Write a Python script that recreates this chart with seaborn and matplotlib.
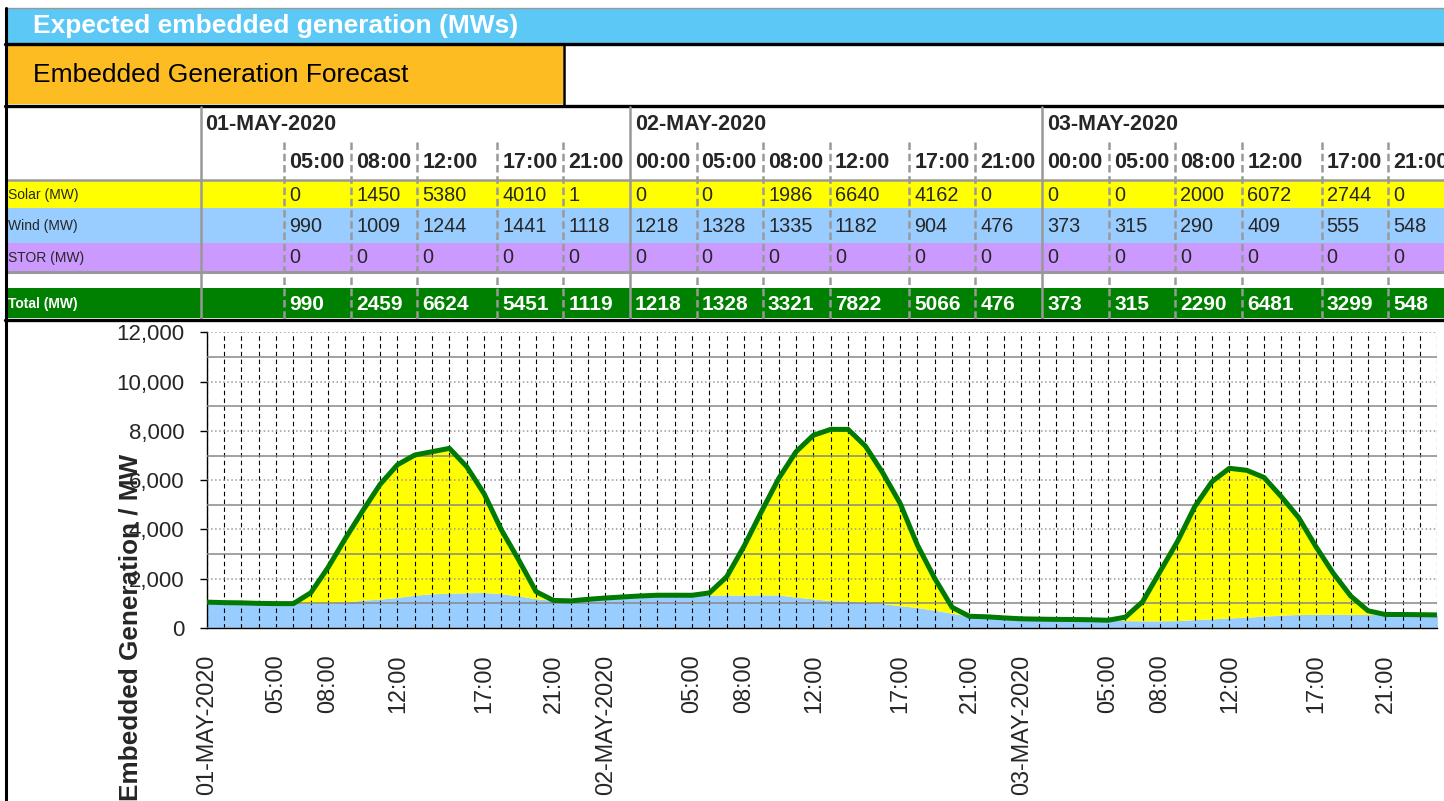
import numpy as np
import matplotlib
matplotlib.use('Agg')
import matplotlib.pyplot as plt
import seaborn as sns
from matplotlib.patches import Rectangle
from matplotlib.ticker import MultipleLocator, StrMethodFormatter

# hourly forecast, 01-MAY-2020 01:00 .. 03-MAY-2020 24:00
wind_mw = [1050, 1030, 1020, 1000, 990, 990, 1000, 1009, 1050, 1130, 1170, 1244, 1330, 1390, 1410, 1430, 1441, 1390, 1300, 1190, 1118, 1100, 1165,
           1218, 1260, 1300, 1330, 1330, 1328, 1335, 1340, 1335, 1345, 1340, 1250, 1182, 1110, 1090, 1040, 990, 904, 830, 720, 600, 476, 455, 410,
           373, 360, 350, 345, 335, 315, 300, 290, 290, 300, 340, 370, 409, 440, 480, 520, 550, 555, 560, 550, 545, 548, 548, 540, 530]
solar_mw = [0, 0, 0, 0, 0, 0, 430, 1450, 2590, 3630, 4660, 5380, 5690, 5765, 5880, 5116, 4010, 2590, 1460, 285, 1, 0, 0,
            0, 0, 0, 0, 0, 0, 90, 740, 1986, 3375, 4730, 5905, 6640, 6950, 6970, 6345, 5310, 4162, 2540, 1295, 240, 0, 0, 0,
            0, 0, 0, 0, 0, 0, 140, 780, 2000, 3200, 4580, 5570, 6072, 5960, 5630, 4810, 3930, 2744, 1660, 750, 155, 0, 0, 0, 0]
stor_mw = [0] * 72

tick_hours = [0, 4, 7, 11, 16, 20, 23, 28, 31, 35, 40, 44, 47, 52, 55, 59, 64, 68]
tick_labels = ['01-MAY-2020', '05:00', '08:00', '12:00', '17:00', '21:00',
               '02-MAY-2020', '05:00', '08:00', '12:00', '17:00', '21:00',
               '03-MAY-2020', '05:00', '08:00', '12:00', '17:00', '21:00']

# table above the chart
dates = ['01-MAY-2020', '02-MAY-2020', '03-MAY-2020']
table_times = ['', '05:00', '08:00', '12:00', '17:00', '21:00',
               '00:00', '05:00', '08:00', '12:00', '17:00', '21:00',
               '00:00', '05:00', '08:00', '12:00', '17:00', '21:00']
solar_tbl = [None, 0, 1450, 5380, 4010, 1, 0, 0, 1986, 6640, 4162, 0, 0, 0, 2000, 6072, 2744, 0]
wind_tbl = [None, 990, 1009, 1244, 1441, 1118, 1218, 1328, 1335, 1182, 904, 476, 373, 315, 290, 409, 555, 548]
stor_tbl = [None, 0, 0, 0, 0, 0, 0, 0, 0, 0, 0, 0, 0, 0, 0, 0, 0, 0]
total_tbl = [None, 990, 2459, 6624, 5451, 1119, 1218, 1328, 3321, 7822, 5066, 476, 373, 315, 2290, 6481, 3299, 548]

hours = np.arange(len(wind_mw))
wind = np.array(wind_mw)
solar = np.array(solar_mw)
total = wind + solar + np.array(stor_mw)

sns.set_theme(style='white')
plt.rcParams['font.family'] = ['Liberation Sans', 'DejaVu Sans']

W, H = 1444, 801
fig = plt.figure(figsize=(W / 100, H / 100), dpi=100)

# background layer in pixel coordinates for the header / table
bg = fig.add_axes([0, 0, 1, 1])
bg.set_xlim(0, W)
bg.set_ylim(H, 0)
bg.axis('off')

bg.plot([5, W], [8, 8], color='#999999', lw=1)
bg.add_patch(Rectangle((6, 9), W - 6, 34, color='#5BC8F5', lw=0))
bg.text(33, 26, 'Expected embedded generation (MWs)', color='white', fontsize=19,
        fontweight='bold', va='center')
bg.plot([5, W], [44, 44], color='black', lw=2.4)
bg.add_patch(Rectangle((6, 45), 557, 59, color='#FDBD22', lw=0))
bg.plot([563.5, 563.5], [44, 105], color='black', lw=1.8)
bg.text(33, 75, 'Embedded Generation Forecast', color='black', fontsize=19, va='center')
bg.plot([5, W], [105.5, 105.5], color='black', lw=2.4)

rows = [('Solar (MW)', solar_tbl, 181, 26.7, '#FFFF00'),
        ('Wind (MW)', wind_tbl, 207.7, 35, '#99CCFF'),
        ('STOR (MW)', stor_tbl, 242.7, 28, '#CC99FF'),
        ('Total (MW)', total_tbl, 288.3, 30, '#008000')]
for name, vals, y0, h, c in rows:
    bg.add_patch(Rectangle((6, y0), W - 6, h, color=c, lw=0, zorder=1))

bg.plot([6, W], [179.5, 179.5], color='#999999', lw=1.8, zorder=2)
bg.plot([6, W], [272, 272], color='#999999', lw=2.2, zorder=2)
bg.plot([5, W], [320, 320], color='black', lw=2.4, zorder=3)

col_x = [200.6, 284.3, 351, 417.3, 497.2, 563.4,
         630, 696.5, 763, 830, 909.3, 975.3,
         1042.3, 1109.2, 1175.2, 1242.2, 1321.5, 1388]
day_cols = [0, 6, 12]
for i, x in enumerate(col_x):
    if i in day_cols:
        bg.plot([x, x], [107, 318.5], color='#999999', lw=1.8, zorder=2)
    else:
        bg.plot([x, x], [142, 318.5], color='#999999', lw=1.8, ls=(0, (3, 1.5)), zorder=2)
    if table_times[i]:
        bg.text(x + 5, 162.7, table_times[i], fontsize=15.5, fontweight='bold', va='center')
    for name, vals, y0, h, c in rows:
        if vals[i] is None:
            continue
        if name.startswith('Total'):
            bg.text(x + 5, y0 + h / 2 + 1, str(vals[i]), fontsize=15, fontweight='bold',
                    color='white', va='center', zorder=4)
        else:
            bg.text(x + 5, y0 + h / 2 + 1, str(vals[i]), fontsize=14.3, va='center', zorder=4)

for d, i in zip(dates, day_cols):
    bg.text(col_x[i] + 5, 125, d, fontsize=15.5, fontweight='bold', va='center')

for name, vals, y0, h, c in rows:
    if name.startswith('Total'):
        bg.text(8, y0 + h / 2 + 1, name, fontsize=10, fontweight='bold', color='white', va='center', zorder=4)
    else:
        bg.text(8, y0 + h / 2 + 1, name, fontsize=10, va='center', zorder=4)

bg.plot([5.5, 5.5], [8, H], color='black', lw=2.2, zorder=5)

bg.text(131, 627, 'Embedded Generation / MW', rotation=90, fontsize=18.8, fontweight='bold',
        ha='center', va='center')

# chart
ax = fig.add_axes([206.8 / W, (H - 628) / H, (1437.3 - 206.8) / W, 295.7 / H])
ax.patch.set_alpha(0)
ax.fill_between(hours, 0, wind, color='#99CCFF', lw=0, zorder=1)
ax.fill_between(hours, wind, wind + solar, color='#FFFF00', lw=0, zorder=1)
sns.lineplot(x=hours, y=total, ax=ax, color='#007A00', lw=3.6, zorder=3)

ax.set_xlim(0, 71)
ax.set_ylim(0, 12000)
ax.set_axisbelow(False)
ax.xaxis.set_minor_locator(MultipleLocator(1))
ax.yaxis.set_major_locator(MultipleLocator(2000))
ax.yaxis.set_minor_locator(MultipleLocator(1000))
ax.yaxis.set_major_formatter(StrMethodFormatter('{x:,.0f}'))
ax.set_xticks(tick_hours)
ax.set_xticklabels(tick_labels, rotation=90, fontsize=16.8)
ax.tick_params(axis='x', which='both', length=0, pad=19, bottom=False)
ax.tick_params(axis='y', which='major', length=5, width=1, pad=11, labelsize=16, left=True, color='black')
ax.tick_params(axis='y', which='minor', length=0)

ax.grid(axis='x', which='both', color='black', ls=(0, (4, 3)), lw=0.8)
ax.grid(axis='y', which='major', color='#999999', ls=':', lw=1.1)
ax.grid(axis='y', which='minor', color='#888888', ls='-', lw=1.1)

for s in ['top', 'right']:
    ax.spines[s].set_visible(False)
for s in ['left', 'bottom']:
    ax.spines[s].set_color('black')
    ax.spines[s].set_linewidth(1)
ax.set_xlabel('')
ax.set_ylabel('')

fig.savefig('out.png', dpi=100)
